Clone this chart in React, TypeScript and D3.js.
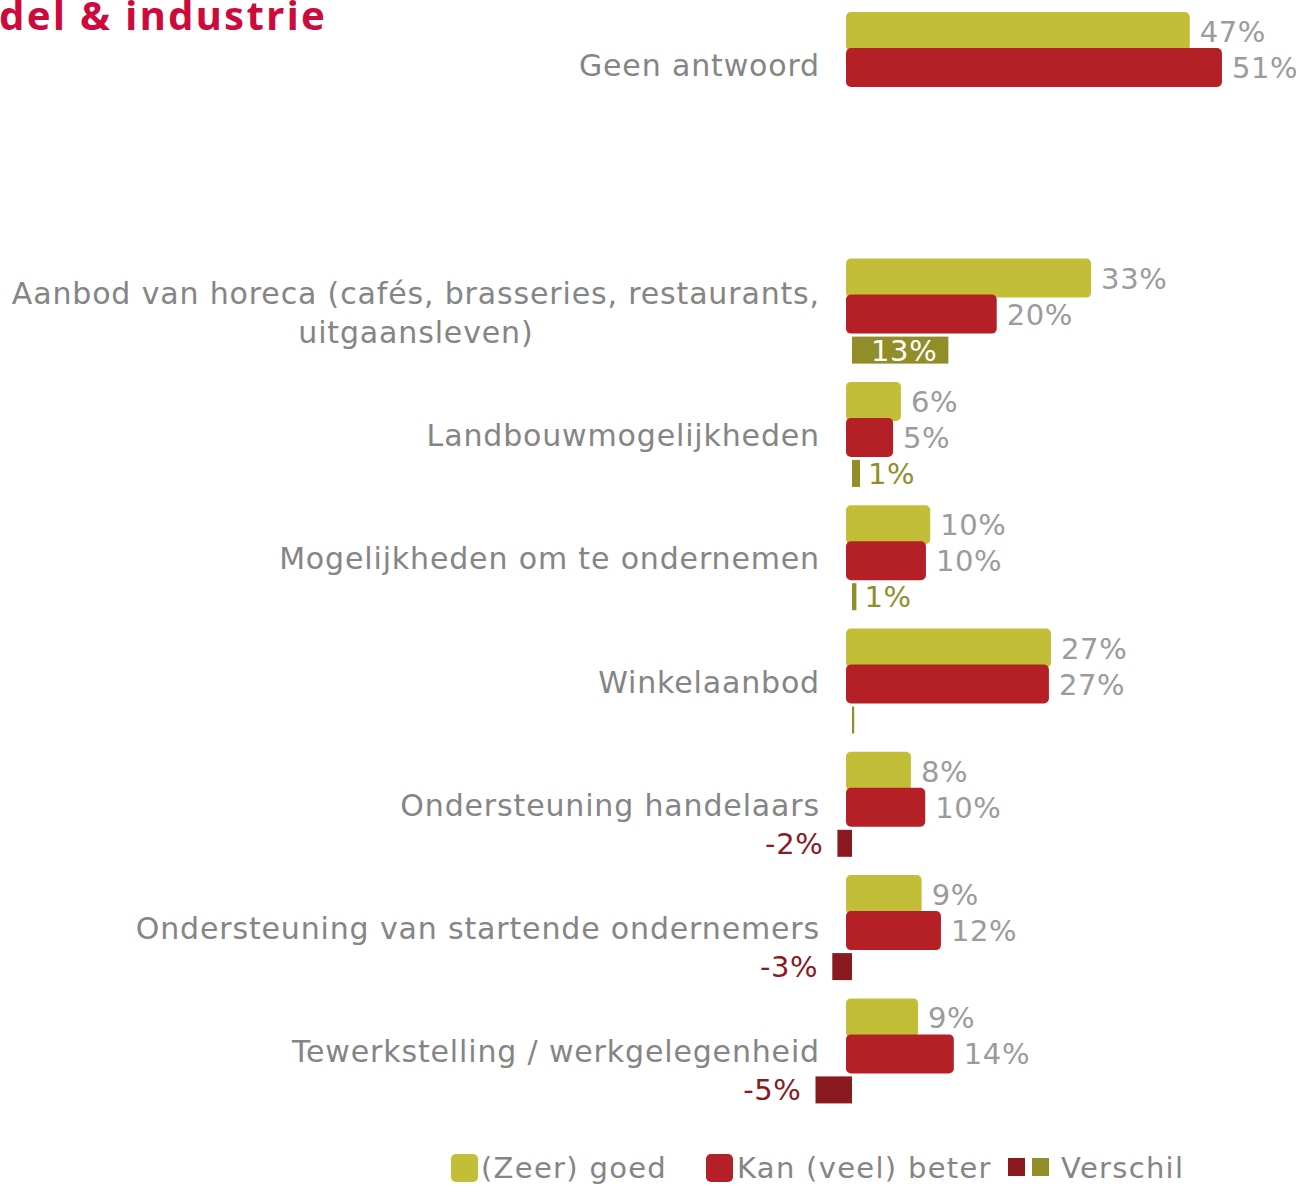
import React, { useEffect, useRef } from "react";
import * as d3 from "d3";

const titleText = "del & industrie";
const categories = [
  "Geen antwoord",
  "Aanbod van horeca (cafés, brasseries, restaurants,\nuitgaansleven)",
  "Landbouwmogelijkheden",
  "Mogelijkheden om te ondernemen",
  "Winkelaanbod",
  "Ondersteuning handelaars",
  "Ondersteuning van startende ondernemers",
  "Tewerkstelling / werkgelegenheid",
];
const goed = [46.5, 32.7, 6.1, 10.2, 27.1, 7.5, 9.0, 8.5];
const beter = [51.0, 19.5, 5.0, 9.6, 26.8, 9.5, 11.7, 13.5];
const verschil: (number | null)[] = [null, 13.2, 1.1, 0.6, 0.3, -2.0, -2.7, -5.0];
const legendLabels = ["(Zeer) goed", "Kan (veel) beter", "Verschil"];

const C_GOED = "#c3be38";
const C_BETER = "#b52027";
const C_POS = "#918e2a";
const C_NEG = "#8a1a1f";
const C_LABEL = "#858585";
const C_VALUE = "#9b9b9b";
const FONT = "'DejaVu Sans', sans-serif";

export default function App() {
  const ref = useRef<SVGSVGElement | null>(null);

  useEffect(() => {
    const svg = d3.select(ref.current);
    svg.selectAll("*").remove();

    // slots: first category, an empty slot, then the rest
    const slotKeys = ["c0", "gap", ...categories.slice(1).map((_, i) => "c" + (i + 1))];
    const y = d3.scaleBand<string>().domain(slotKeys).range([12, 12 + 9 * 123.3]).paddingInner(0).paddingOuter(0);
    const xm = d3.scaleLinear().domain([0, 100]).range([857.3, 857.3 + 715]);
    const xd = d3.scaleLinear().domain([0, 100]).range([852, 852 + 730]);
    const barStart = 846;
    const fmt = (v: number) => Math.round(v) + "%";

    // title
    svg.append("text")
      .attr("x", -1).attr("y", 30)
      .attr("font-family", "'Noto Sans', sans-serif")
      .attr("font-weight", 700)
      .attr("font-size", 40)
      .attr("letter-spacing", 2.4)
      .attr("fill", "#cc0a3c")
      .text(titleText);

    const labelText = (sel: d3.Selection<SVGTextElement, unknown, null, undefined>) =>
      sel.attr("font-family", FONT).attr("font-size", 30).attr("letter-spacing", 0.85).attr("fill", C_LABEL);
    const valueText = (sel: d3.Selection<SVGTextElement, unknown, null, undefined>) =>
      sel.attr("font-family", FONT).attr("font-size", 29).attr("letter-spacing", 0.6);

    const g = svg.append("g");
    categories.forEach((cat, i) => {
      const b = y("c" + i)!;
      // category label
      const lines = cat.split("\n");
      if (lines.length === 1) {
        labelText(g.append("text") as any)
          .attr("x", 820).attr("y", b + 64)
          .attr("text-anchor", "end")
          .text(cat);
      } else {
        const t1 = labelText(g.append("text") as any)
          .attr("x", 820).attr("y", b + 45)
          .attr("text-anchor", "end")
          .text(lines[0]);
        const w1 = (t1.node() as SVGTextElement).getComputedTextLength();
        labelText(g.append("text") as any)
          .attr("x", 820 - w1 / 2).attr("y", b + 84)
          .attr("text-anchor", "middle")
          .text(lines[1]);
      }

      // goed bar
      g.append("rect")
        .attr("x", barStart).attr("y", b)
        .attr("width", xm(goed[i]) - barStart).attr("height", 39)
        .attr("rx", 5).attr("fill", C_GOED);
      valueText(g.append("text") as any)
        .attr("x", xm(goed[i]) + 10).attr("y", b + 30)
        .attr("fill", C_VALUE)
        .text(fmt(goed[i]));

      // beter bar
      g.append("rect")
        .attr("x", barStart).attr("y", b + 36)
        .attr("width", xm(beter[i]) - barStart).attr("height", 39)
        .attr("rx", 5).attr("fill", C_BETER);
      valueText(g.append("text") as any)
        .attr("x", xm(beter[i]) + 10).attr("y", b + 66)
        .attr("fill", C_VALUE)
        .text(fmt(beter[i]));

      // verschil bar
      const v = verschil[i];
      if (v !== null) {
        const x0 = xd(0), x1 = xd(v);
        const w = Math.max(Math.abs(x1 - x0), 2);
        const rx = v >= 0 ? x0 : x0 - w;
        g.append("rect")
          .attr("x", rx).attr("y", b + 78)
          .attr("width", w).attr("height", 27)
          .attr("fill", v >= 0 ? C_POS : C_NEG);
        if (Math.round(v) !== 0) {
          if (w > 70) {
            valueText(g.append("text") as any)
              .attr("x", rx + w / 2 + 4).attr("y", b + 102)
              .attr("text-anchor", "middle")
              .attr("fill", "#ffffff")
              .text(fmt(v));
          } else if (v > 0) {
            valueText(g.append("text") as any)
              .attr("x", x1 + 8).attr("y", b + 102)
              .attr("fill", C_POS)
              .text(fmt(v));
          } else {
            valueText(g.append("text") as any)
              .attr("x", x1 - 14).attr("y", b + 102)
              .attr("text-anchor", "end")
              .attr("fill", C_NEG)
              .text(fmt(v));
          }
        }
      }
    });

    // legend
    const lg = svg.append("g");
    const ly = 1178;
    const legText = (sel: d3.Selection<SVGTextElement, unknown, null, undefined>) =>
      sel.attr("font-family", FONT).attr("font-size", 29).attr("letter-spacing", 1.3).attr("fill", C_LABEL);
    lg.append("rect").attr("x", 451).attr("y", 1154).attr("width", 27).attr("height", 28).attr("rx", 5).attr("fill", C_GOED);
    legText(lg.append("text") as any).attr("x", 481).attr("y", ly).text(legendLabels[0]);
    lg.append("rect").attr("x", 706).attr("y", 1154).attr("width", 27).attr("height", 28).attr("rx", 5).attr("fill", C_BETER);
    legText(lg.append("text") as any).attr("x", 737).attr("y", ly).text(legendLabels[1]);
    lg.append("rect").attr("x", 1008).attr("y", 1158).attr("width", 17).attr("height", 18).attr("fill", C_NEG);
    lg.append("rect").attr("x", 1032).attr("y", 1158).attr("width", 17).attr("height", 18).attr("fill", C_POS);
    legText(lg.append("text") as any).attr("x", 1061).attr("y", ly).text(legendLabels[2]);
  }, []);

  return (
    <svg
      ref={ref}
      width={1296}
      height={1185}
      style={{ position: "absolute", left: 0, top: 0, background: "#ffffff" }}
    />
  );
}
